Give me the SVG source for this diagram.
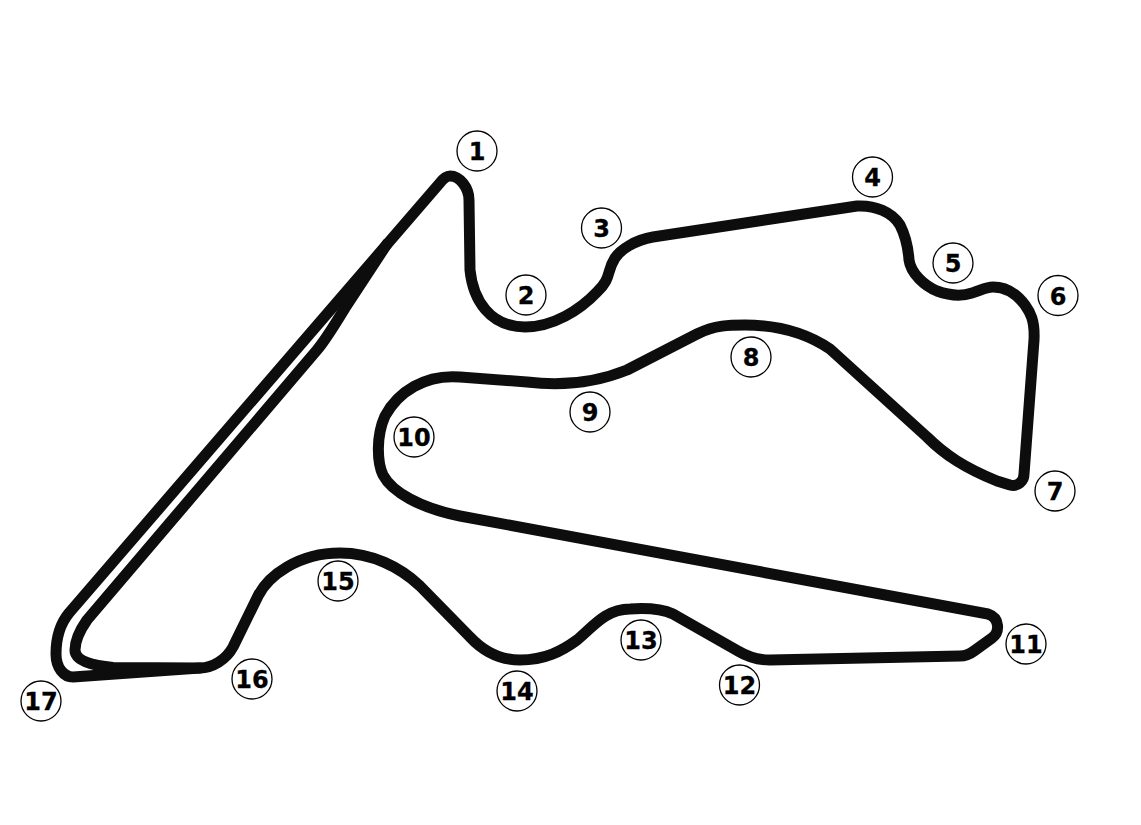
<svg xmlns="http://www.w3.org/2000/svg" width="1141" height="825" viewBox="0 0 1141 825">
<style>
.track{fill:none;stroke:#0d0d0d;stroke-width:11;stroke-linejoin:round;stroke-linecap:round}
.c{fill:#fff;stroke:#000;stroke-width:1.3}
.t{font-family:"DejaVu Sans",sans-serif;font-weight:700;font-size:24px;text-anchor:middle;fill:#000;stroke:#000;stroke-width:.3}
</style>
<rect width="1141" height="825" fill="#fff"/>
<g id="connectors">
<path class="track" d="M200 668C212 668 226 660 233 647L258 596C268 576 298 553 340 553C372 553 400 567 420 586L470 637C484 652 500 660 520 660C545 660 562 651 577 640C592 628 605 609 630 609C645 608 662 609 673 614L738 651C748 657 758 660 770 660L960 656C966 656 970 654 974 651L992 638C1000 632 1000 618 988 614L460 516C420 508 392 492 383 475C377 462 376 436 385 416C398 392 425 374 460 377L527 382C560 386 595 383 627 370L697 334C715 325 730 325 745 325C775 325 805 332 830 349L927 437C945 455 965 468 997 481L1010 485C1018 487 1024 481 1024 474L1034 340C1035 320 1030 312 1025 305C1016 293 1005 287 993 287C985 287 980 291 972 293C960 297 948 295 937 291C925 286 911 274 909 260C908 245 905 235 900 225C892 212 875 205 857 206L653 237C635 240 620 250 615 258C606 272 612 278 597 292C580 310 553 327 525 327C490 327 473 300 470 270L469 200C469 188 460 176 450 176C446 176 442 180 439 184L69 613C60 624 56 640 56 654C56 668 64 677 73 677L200 668"/>
<path class="track" d="M387 244L345 308C335 324 327 338 317 350L87 620C80 630 75 642 75 650C75 660 90 665 113 667.500L200 668"/>
</g>
<g id="n1"><circle class="c" cx="477" cy="151" r="20"/><text class="t" x="477" y="160">1</text></g>
<g id="n2"><circle class="c" cx="526" cy="295" r="20"/><text class="t" x="526" y="304">2</text></g>
<g id="n3"><circle class="c" cx="601.500" cy="228" r="20"/><text class="t" x="601.500" y="237">3</text></g>
<g id="n4"><circle class="c" cx="872.500" cy="177" r="20"/><text class="t" x="872.500" y="186">4</text></g>
<g id="n5"><circle class="c" cx="953" cy="263" r="20"/><text class="t" x="953" y="272">5</text></g>
<g id="n6"><circle class="c" cx="1058" cy="295.500" r="20"/><text class="t" x="1058" y="304.500">6</text></g>
<g id="n7"><circle class="c" cx="1055" cy="491" r="20"/><text class="t" x="1055" y="500">7</text></g>
<g id="n8"><circle class="c" cx="751" cy="357" r="20"/><text class="t" x="751" y="366">8</text></g>
<g id="n9"><circle class="c" cx="590" cy="412" r="20"/><text class="t" x="590" y="421">9</text></g>
<g id="n10"><circle class="c" cx="414" cy="437" r="20"/><text class="t" x="414" y="446">10</text></g>
<g id="n11"><circle class="c" cx="1026" cy="644" r="20"/><text class="t" x="1026" y="653">11</text></g>
<g id="n12"><circle class="c" cx="739.500" cy="685" r="20"/><text class="t" x="739.500" y="694">12</text></g>
<g id="n13"><circle class="c" cx="641" cy="640" r="20"/><text class="t" x="641" y="649">13</text></g>
<g id="n14"><circle class="c" cx="517" cy="691" r="20"/><text class="t" x="517" y="700">14</text></g>
<g id="n15"><circle class="c" cx="338" cy="581" r="20"/><text class="t" x="338" y="590">15</text></g>
<g id="n16"><circle class="c" cx="252" cy="679" r="20"/><text class="t" x="252" y="688">16</text></g>
<g id="n17"><circle class="c" cx="41" cy="701" r="20"/><text class="t" x="41" y="710">17</text></g>
</svg>
